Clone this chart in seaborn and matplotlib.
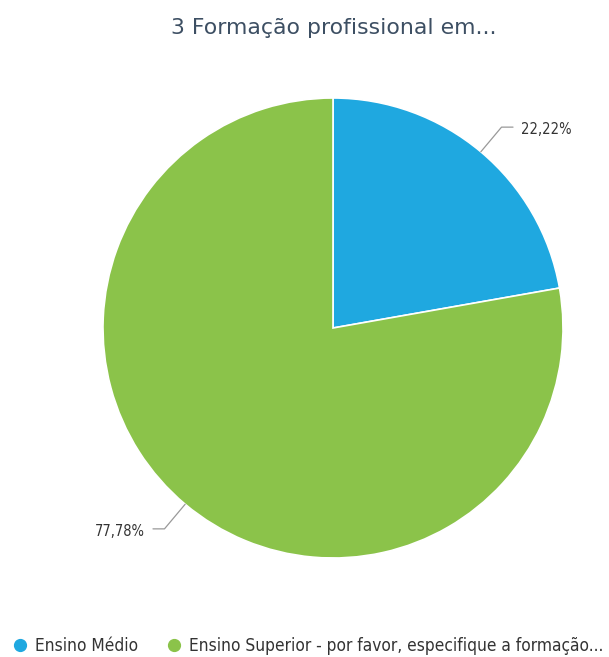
import matplotlib
matplotlib.use("Agg")
import matplotlib.pyplot as plt
import seaborn as sns
import numpy as np
from matplotlib.lines import Line2D

sns.set_theme(style="white")
plt.rcParams['font.family'] = ['DejaVu Sans']

title = "3 Formação profissional em..."
categories = ["Ensino Médio", "Ensino Superior - por favor, especifique a formação..."]
values = [22.22, 77.78]
labels = ["22,22%", "77,78%"]
colors = ["#1FA8E0", "#8BC34A"]

W, H = 609, 657
fig = plt.figure(figsize=(W / 100, H / 100), dpi=100)
fig.patch.set_facecolor("white")

cx, cy, r = 333, 328, 230
ax = fig.add_axes([(cx - r) / W, (H - (cy + r)) / H, 2 * r / W, 2 * r / H])
wedges, _ = ax.pie(values, colors=colors, startangle=90, counterclock=False,
                   radius=1, wedgeprops=dict(edgecolor="white", linewidth=1.2))
ax.set_xlim(-1, 1)
ax.set_ylim(-1, 1)
ax.set_aspect("equal")
ax.axis("off")

# labels with leader lines
for w, lab in zip(wedges, labels):
    ang = np.deg2rad((w.theta1 + w.theta2) / 2)
    x0, y0 = np.cos(ang), np.sin(ang)
    side = 1 if x0 > 0 else -1
    x1, y1 = x0 * 1.14, y0 * 1.14
    x2 = x1 + side * 0.05
    ax.plot([x0, x1, x2], [y0, y1, y1], color="#999999", lw=0.9, clip_on=False)
    ax.text(x2 + side * 0.035, y1 - 0.01, lab, ha="left" if side > 0 else "right",
            va="center", fontsize=10.5, color="#333333",
            fontstretch="condensed")

fig.text(334 / W, 1 - 28 / H, title, ha="center", va="center", fontsize=15.8,
         color="#3D4F63")

handles = [Line2D([0], [0], marker="o", color="none", markerfacecolor=c,
                  markeredgecolor=c, markersize=8.5) for c in colors]
fig.legend(handles, categories, loc="center", bbox_to_anchor=(0.505, 1 - 646 / H),
           ncol=2, frameon=False, handletextpad=0.35,
           columnspacing=1.6, handlelength=1.0,
           prop=dict(size=12.4, stretch="condensed"), labelcolor="#333333")

fig.savefig("out.png", dpi=100, facecolor="white")
